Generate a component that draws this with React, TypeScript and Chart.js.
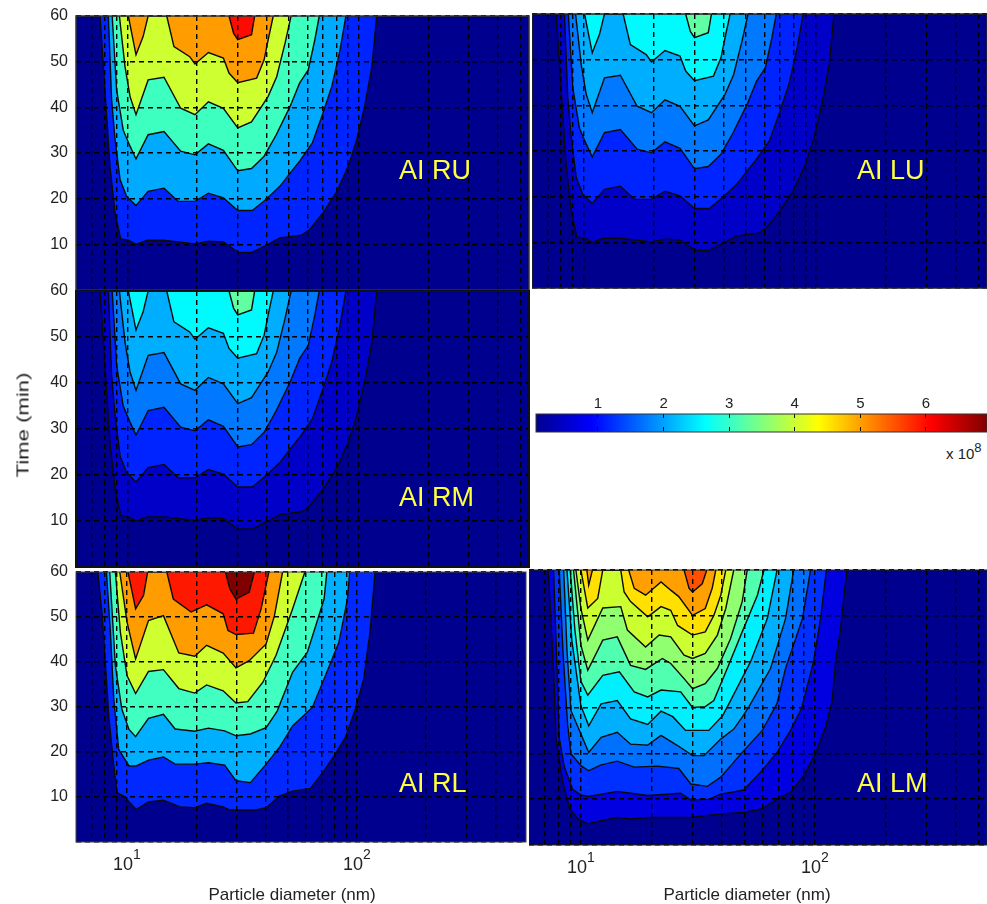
import React, { useEffect, useRef } from "react";
import { Chart, registerables } from "chart.js";

Chart.register(...registerables);

const FONT = '"Liberation Sans", Arial, sans-serif';

// ---- Tick labels ----
const xTickValues = [7, 8, 9, 10, 20, 30, 40, 50, 60, 70, 80, 90, 100, 200, 300, 400, 500];
const xTickLabels: Record<number, string> = { 10: "10", 100: "10" };
const xTickExponents: Record<number, string> = { 10: "1", 100: "2" };
const yTickValues = [0, 10, 20, 30, 40, 50, 60];
const colorbarTicks = [1, 2, 3, 4, 5, 6];

// ---- Contours shared by the RU, RM and LU panels (nm, min) ----
const upperNm1 = [7.62, 7.88, 8.14, 8.41, 8.85, 9.36, 10.1, 10.9, 12.2, 14.3, 19.6, 22.4, 26, 30, 34.4, 40.6, 45.6, 56.6, 61.5, 70, 80.5, 90, 98, 106, 114, 119.5];
const upperMin1 = [60, 48.9, 38, 27.1, 16.9, 11.2, 10.9, 10, 10.9, 10.9, 10.1, 10.7, 10.5, 8.3, 8.2, 10, 11.4, 12, 13.3, 16.9, 21.6, 27.1, 32.9, 40.2, 48.9, 60];
const upperNm2 = [8.28, 8.55, 8.85, 9.3, 9.93, 10.9, 12.3, 14.4, 16.6, 19.6, 22.4, 26, 30, 34.7, 40, 45.6, 50.5, 55.5, 63, 70, 76.5, 83, 88];
const upperMin2 = [60, 41.7, 33, 24.2, 20.5, 18.5, 21.6, 22.3, 19.4, 19.4, 21.2, 20.2, 17.4, 17.4, 20, 22.7, 25.6, 28.2, 32.2, 38.7, 44.6, 52.6, 60];
const upperNm3 = [8.6, 8.99, 9.6, 10.27, 10.9, 12.3, 14.4, 17, 19.6, 22.4, 26, 30, 34.4, 39, 44, 50.5, 55.5, 60.5, 64.6, 67.5];
const upperMin3 = [60, 43.8, 35, 31.5, 28.7, 34, 34.7, 30.4, 29.6, 32, 30.6, 26.1, 26.6, 29.3, 34, 40.2, 45.3, 48.2, 54.8, 60];
const upperNm4 = [9.24, 9.77, 10.27, 10.9, 12.3, 14.4, 17, 19.6, 22.4, 26, 30, 34.4, 40.6, 44.2, 48, 51];
const upperMin4 = [60, 48.9, 42.4, 38.4, 46, 46.6, 39.8, 38.4, 41.2, 39.8, 35.5, 36.8, 42.4, 46.7, 54, 60];
const upperNm5 = [10.1, 10.9, 11.7, 12.3, 14.8, 15.9, 18.6, 19.6, 22.4, 26, 27.5, 30, 36.2, 39, 40.6, 42.7];
const upperMin5 = [60, 51.5, 55.5, 60, 60, 53.3, 51.1, 49.5, 52, 50.8, 47.5, 45.4, 46.4, 50.4, 54.8, 60];
const upperNm6 = [27.5, 28.8, 30, 34.4, 35.5];
const upperMin6 = [60, 56.2, 54.8, 55.9, 60];

// ---- Contours of the RL panel (nm, min) ----
const rlNm1 = [7.47, 7.8, 8.06, 8.33, 8.76, 9.05, 9.67, 10.97, 12.4, 14.4, 17, 19.7, 22.2, 26.2, 28, 36.5, 40.3, 46, 52.5, 62.8, 71, 79.5, 89, 98.5, 107, 114, 120];
const rlMin1 = [60, 50.3, 39.2, 28, 16.9, 11, 10.2, 7.2, 8.9, 9.3, 7.8, 7.6, 8.6, 7.8, 7.1, 7.1, 7.6, 10.2, 11.3, 11.9, 15.4, 19.1, 23.2, 29.5, 36.2, 46.6, 60];
const rlNm2 = [8.14, 8.47, 8.76, 9.2, 10.2, 10.97, 12.4, 14.4, 16.2, 19.7, 22.6, 26.6, 29.8, 34.4, 40.3, 46, 52.5, 64, 73, 83.5, 91, 93];
const rlMin2 = [60, 46.6, 31.8, 20.6, 16.9, 16.9, 18.2, 18.9, 17.3, 17.3, 17.6, 17.1, 13.6, 13.2, 17.3, 21, 25.8, 29.9, 37, 44.4, 54, 60];
const rlNm3 = [8.41, 8.9, 9.5, 10.2, 10.9, 12.4, 14.4, 16.2, 19.7, 22.6, 26.6, 29.8, 34.4, 40.3, 45, 52.5, 60.9, 67, 72, 74];
const rlMin3 = [60, 39.2, 29.5, 25, 23.4, 27.5, 28.4, 25.1, 24.6, 25.3, 24.7, 23.6, 24, 25.4, 29.1, 37.7, 42.2, 48.9, 54, 60];
const rlNm4 = [8.9, 9.36, 10, 10.9, 12.4, 14.4, 16.8, 19.7, 22.2, 26.2, 29.8, 33.5, 39, 44.5, 52.5, 59.4];
const rlMin4 = [60, 46.6, 37, 33, 37.9, 38.3, 34.1, 33.1, 34.9, 33.6, 30.9, 31.2, 35.5, 41.5, 51.8, 60];
const rlNm5 = [9.3, 10, 10.9, 12.4, 14.4, 16.8, 19.7, 22.2, 26.2, 29.8, 34, 40.3, 43.8, 47.5];
const rlMin5 = [60, 48.9, 40.7, 49.2, 50.3, 42, 41.3, 43.7, 42, 38.7, 40.3, 44, 50.3, 60];
const rlNm6 = [10.1, 10.9, 11.8, 12.3, 14.9, 15.9, 19, 22.2, 26.2, 27.5, 29.8, 35.5, 38.3, 41.4];
const rlMin6 = [60, 51.8, 54.8, 60, 60, 54, 51.1, 52.7, 50.7, 47, 46.1, 46.4, 51.8, 60];
const rlNm7 = [26.8, 28, 29.8, 34, 35.8];
const rlMin7 = [60, 56.3, 54, 55.5, 60];

// ---- Contours of the LM panel (nm, min) ----
const lmNm1 = [7.25, 7.45, 7.67, 7.82, 8.35, 8.91, 9.68, 10.7, 12.2, 14.3, 16.3, 19.9, 29.5, 39.6, 49.6, 59.6, 68.9, 78.7, 89.5, 100.6, 111, 118.6, 122.6, 128.7, 137];
const lmMin1 = [60, 49, 35.9, 23.4, 14, 8.2, 5.7, 4.6, 5.3, 6, 5.7, 6, 6, 6.8, 7.1, 7.9, 10, 11.5, 15.1, 19.9, 25.7, 31.5, 40, 47.2, 60];
const lmNm2 = [7.64, 7.86, 8.08, 8.5, 9.2, 10, 10.8, 14.3, 19.3, 26.7, 29.5, 35.2, 39.6, 49.6, 58.6, 68.9, 78.7, 87.7, 98.7, 105.7, 112];
const lmMin2 = [60, 42.4, 23.4, 17, 12.2, 10.9, 10.6, 11.7, 10.8, 11.3, 9.8, 10, 11.1, 12, 15.9, 20.2, 25, 29.8, 40, 49.4, 60];
const lmNm3 = [8.08, 8.38, 8.77, 9.07, 10, 10.8, 12.2, 14.3, 16.9, 21.2, 26.2, 29.5, 34.7, 39.6, 48.9, 59.6, 68.9, 74.9, 88.5, 95.8];
const lmMin3 = [60, 42.4, 26.4, 19.9, 17.3, 16.2, 17.5, 18.3, 17, 17.2, 16.7, 13.3, 12.8, 14.8, 20.2, 25, 30.9, 38.5, 49.4, 60];
const lmNm4 = [8.44, 8.72, 9.07, 10, 10.8, 12.2, 14.3, 16.3, 19.3, 22, 25.9, 30, 33.6, 39.6, 45, 48.9, 52.3, 64.6, 74.9, 81.2];
const lmMin4 = [60, 42.4, 29.3, 24.2, 20.2, 23.5, 24.6, 22, 21.8, 23.9, 21.7, 19.5, 19.5, 23.1, 25.3, 27.9, 30.2, 38.5, 49.4, 60];
const lmNm5 = [8.72, 9.15, 10, 10.8, 12.2, 14.3, 16.3, 19.3, 22, 24.7, 28, 35.2, 40.3, 43.6, 53.1, 62.6, 68.9];
const lmMin5 = [60, 44.6, 30.4, 26, 30.8, 31.5, 27.5, 26.3, 29.2, 28, 25, 25, 28.2, 31.5, 40, 49.4, 60];
const lmNm6 = [9, 9.43, 10, 10.7, 12.4, 14.6, 16.9, 19.3, 22, 26.7, 30, 34, 37, 42.2, 48.9, 56.8, 60.6];
const lmMin6 = [60, 46.8, 35.7, 32.7, 37, 37.8, 33.4, 32.3, 33.8, 33.4, 30, 30.2, 31.5, 38.5, 46.5, 54.5, 60];
const lmNm7 = [9.3, 10, 10.7, 12.4, 14.3, 16.3, 18.9, 22.3, 24.2, 27.6, 30, 34, 38.3, 43.6, 48.9, 51.4];
const lmMin7 = [60, 43.6, 38.1, 44.7, 45.4, 39.2, 38.3, 40.7, 39.6, 36.3, 34.1, 35.2, 38.5, 45, 53.1, 60];
const lmNm8 = [9.52, 10, 10.7, 12.4, 14.8, 15.8, 18.9, 21.6, 24.2, 27.6, 30, 34, 38.3, 41.6, 45];
const lmMin8 = [60, 51.6, 44.7, 51.7, 52, 46.9, 43.2, 45.8, 45.4, 41.4, 40.7, 41.8, 45.8, 51.6, 60];
const lmNm9 = [10, 10.7, 11.8, 12.4, 14.8, 15.3, 16.3, 19.3, 22, 24.2, 25.9, 30, 34, 37, 39.6, 41.6];
const lmMin9 = [60, 51.7, 53.8, 60, 60, 55.2, 53.1, 49.8, 52, 51.2, 47.9, 45.8, 46.5, 50.1, 54.5, 60];
const lmNm10 = [10.6, 10.8, 11.2, 16, 16.9, 18.9, 22, 24.2, 26.2, 30, 34, 36.4, 37.7];
const lmMin10 = [60, 56.7, 60, 60, 56, 54.5, 57.4, 55.6, 54.2, 50.1, 51.6, 56, 60];
const lmNm11 = [27.6, 29, 30, 33, 34.5];
const lmMin11 = [60, 56, 55.2, 57, 60];

// ---- Colours of the filled bands, lowest band first ----
const upperColors = ["#0000c8", "#0024ff", "#0078ff", "#00aeff", "#00fbff", "#60ffa4"];
const ruColors = ["#0024ff", "#00aaff", "#3cffc0", "#ceff30", "#ff9c00", "#ff0a00"];
const rlColors = ["#0028ff", "#00b0ff", "#40ffc0", "#d0ff30", "#ff9c00", "#ff1800", "#800000"];
const lmColors = ["#0000e0", "#0030ff", "#0070ff", "#00b0ff", "#00f0ff", "#50ffb0", "#90ff70", "#ccff30", "#ffe000", "#ffa000", "#ff5000"];
const jetStops = ["#00008f", "#0000ff", "#00ffff", "#ffff00", "#ff0000", "#800000"];
const jetPositions = [0, 0.125, 0.375, 0.625, 0.875, 1];
const BASE_COLOR = "#00008f";

const upperLines = [[upperNm1, upperMin1], [upperNm2, upperMin2], [upperNm3, upperMin3], [upperNm4, upperMin4], [upperNm5, upperMin5], [upperNm6, upperMin6]];
const rlLines = [[rlNm1, rlMin1], [rlNm2, rlMin2], [rlNm3, rlMin3], [rlNm4, rlMin4], [rlNm5, rlMin5], [rlNm6, rlMin6], [rlNm7, rlMin7]];
const lmLines = [[lmNm1, lmMin1], [lmNm2, lmMin2], [lmNm3, lmMin3], [lmNm4, lmMin4], [lmNm5, lmMin5], [lmNm6, lmMin6], [lmNm7, lmMin7], [lmNm8, lmMin8], [lmNm9, lmMin9], [lmNm10, lmMin10], [lmNm11, lmMin11]];

type Panel = {
  l: number; t: number; r: number; b: number; lines: number[][][]; colors: string[];
  yLabels: boolean; xLabels: boolean; frame: string; frameWidth: number;
};

const panels: Panel[] = [
  { l: 532, t: 14, r: 987, b: 288, lines: upperLines, colors: upperColors, yLabels: false, xLabels: false, frame: "#222", frameWidth: 1.5 },
  { l: 76, t: 16, r: 529, b: 290, lines: upperLines, colors: ruColors, yLabels: true, xLabels: false, frame: "#333", frameWidth: 1.5 },
  { l: 76, t: 291, r: 529, b: 567, lines: upperLines, colors: upperColors, yLabels: true, xLabels: false, frame: "#111", frameWidth: 2 },
  { l: 76, t: 572, r: 526, b: 841, lines: rlLines, colors: rlColors, yLabels: true, xLabels: true, frame: "#444", frameWidth: 1 },
  { l: 529, t: 570, r: 987, b: 844, lines: lmLines, colors: lmColors, yLabels: false, xLabels: true, frame: "#222", frameWidth: 1 },
];

const panelLabels = [
  { text: "AI RU", x: 399, y: 171 },
  { text: "AI LU", x: 857, y: 171 },
  { text: "AI RM", x: 399, y: 498 },
  { text: "AI RL", x: 399, y: 784 },
  { text: "AI LM", x: 857, y: 784 },
];

const SOFTEN = "blur(0.45px)";

function framePlugin(color: string, width: number) {
  return {
    id: "frame",
    beforeDatasetsDraw(chart: any) {
      const a = chart.chartArea;
      chart.ctx.save();
      chart.ctx.fillStyle = BASE_COLOR;
      chart.ctx.fillRect(a.left, a.top, a.right - a.left, a.bottom - a.top);
      chart.ctx.restore();
    },
    afterDraw(chart: any) {
      const a = chart.chartArea;
      chart.ctx.save();
      chart.ctx.strokeStyle = color;
      chart.ctx.lineWidth = width;
      chart.ctx.strokeRect(a.left, a.top, a.right - a.left, a.bottom - a.top);
      chart.ctx.restore();
    },
  };
}

const exponentPlugin = {
  id: "exponents",
  afterDraw(chart: any) {
    if (chart.height - chart.chartArea.bottom < 10) return;
    const s = chart.scales.x;
    const ctx = chart.ctx;
    ctx.save();
    ctx.font = `14px ${FONT}`;
    ctx.fillStyle = "#222";
    ctx.textAlign = "left";
    ctx.textBaseline = "middle";
    Object.keys(xTickExponents).forEach((k) => {
      ctx.fillText(xTickExponents[Number(k)], s.getPixelForValue(Number(k)) + 6, chart.chartArea.bottom + 13);
    });
    ctx.restore();
  },
};

function ContourPanel({ p }: { p: Panel }) {
  const ref = useRef<HTMLCanvasElement>(null);
  const ml = p.yLabels ? 76 : 0;
  const mt = 12;
  const mb = p.xLabels ? 46 : 0;
  const w = p.r - p.l + ml + 1;
  const h = p.b - p.t + mt + mb + 1;
  useEffect(() => {
    const chart = new Chart(ref.current as HTMLCanvasElement, {
      type: "line",
      data: {
        datasets: p.lines.map((line, i) => ({
          data: line[0].map((nm, j) => ({ x: nm, y: line[1][j] })),
          fill: "end",
          backgroundColor: p.colors[i],
          borderColor: "#0a0a0a",
          borderWidth: 1.4,
          pointRadius: 0,
          tension: 0,
          order: p.lines.length - i,
        })),
      },
      options: {
        animation: false,
        responsive: false,
        layout: { padding: { top: mt, right: 1, bottom: p.xLabels ? 0 : 1, left: 0 } },
        plugins: { legend: { display: false }, tooltip: { enabled: false } },
        scales: {
          x: {
            type: "logarithmic",
            min: 6,
            max: 544,
            afterBuildTicks: (s: any) => {
              s.ticks = xTickValues.map((value) => ({ value, major: false }));
            },
            afterFit: (s: any) => {
              s.height = mb;
              s.paddingLeft = 0;
              s.paddingRight = 0;
            },
            border: { display: false, dash: [5, 4] },
            grid: { color: "#000", lineWidth: 1.4, z: 1, drawTicks: false },
            ticks: {
              display: p.xLabels,
              autoSkip: false,
              maxRotation: 0,
              padding: 12,
              labelOffset: -4,
              color: "#222",
              font: { family: FONT, size: 18 },
              callback: (v: any) => xTickLabels[Number(v)] ?? "",
            },
          },
          y: {
            type: "linear",
            min: 0,
            max: 60,
            afterBuildTicks: (s: any) => {
              s.ticks = yTickValues.map((value) => ({ value }));
            },
            afterFit: (s: any) => {
              s.width = ml;
              s.paddingTop = 0;
              s.paddingBottom = 0;
            },
            border: { display: false, dash: [5, 4] },
            grid: { color: "#000", lineWidth: 1.4, z: 1, drawTicks: false },
            ticks: {
              display: p.yLabels,
              padding: 8,
              color: "#222",
              font: { family: FONT, size: 16 },
              callback: (v: any) => (Number(v) === 0 ? "" : String(v)),
            },
          },
        },
      } as any,
      plugins: [framePlugin(p.frame, p.frameWidth), exponentPlugin],
    });
    return () => chart.destroy();
  }, []);
  return (
    <canvas
      ref={ref}
      width={w}
      height={h}
      style={{ position: "absolute", left: p.l - ml, top: p.t - mt, width: w, height: h, display: "block", filter: SOFTEN }}
    />
  );
}

function Colorbar() {
  const ref = useRef<HTMLCanvasElement>(null);
  useEffect(() => {
    const chart = new Chart(ref.current as HTMLCanvasElement, {
      type: "bar",
      data: {
        labels: ["colorbar"],
        datasets: [
          {
            data: [6.93],
            categoryPercentage: 1,
            barPercentage: 1,
            backgroundColor: (ctx: any) => {
              const a = ctx.chart.chartArea;
              if (!a) return BASE_COLOR;
              const g = ctx.chart.ctx.createLinearGradient(a.left, 0, a.right, 0);
              jetStops.forEach((c, i) => g.addColorStop(jetPositions[i], c));
              return g;
            },
          },
        ],
      },
      options: {
        animation: false,
        responsive: false,
        indexAxis: "y",
        layout: { padding: { top: 0, right: 1, bottom: 1, left: 1 } },
        plugins: { legend: { display: false }, tooltip: { enabled: false } },
        scales: {
          x: {
            position: "top",
            min: 0.055,
            max: 6.93,
            afterBuildTicks: (s: any) => {
              s.ticks = colorbarTicks.map((value) => ({ value }));
            },
            afterFit: (s: any) => {
              s.height = 24;
              s.paddingLeft = 0;
              s.paddingRight = 0;
            },
            border: { display: false, dash: [4, 9] },
            grid: { color: "#111", lineWidth: 1, z: 1, drawTicks: false },
            ticks: { padding: 1, color: "#222", font: { family: FONT, size: 15 } },
          },
          y: { display: false },
        },
      } as any,
      plugins: [framePlugin("#333", 1)],
    });
    return () => chart.destroy();
  }, []);
  return (
    <canvas
      ref={ref}
      width={453}
      height={43}
      style={{ position: "absolute", left: 535, top: 390, width: 453, height: 43, display: "block", filter: SOFTEN }}
    />
  );
}

const textStyle: React.CSSProperties = { position: "absolute", fontFamily: FONT, whiteSpace: "nowrap", color: "#222", lineHeight: 1 };

export default function App() {
  return (
    <div style={{ position: "absolute", left: 0, top: 0, width: 987, height: 904, overflow: "hidden", background: "#fff" }}>
      {panels.map((p, i) => (
        <ContourPanel key={i} p={p} />
      ))}
      <Colorbar />
      {panelLabels.map((l) => (
        <span key={l.text} style={{ ...textStyle, left: l.x, top: l.y - 14, fontSize: 27, color: "#ffff3c" }}>
          {l.text}
        </span>
      ))}
      <span style={{ ...textStyle, left: 23, top: 425, fontSize: 17, transform: "translate(-50%,-50%) rotate(-90deg) scaleX(1.3)" }}>Time (min)</span>
      <span style={{ ...textStyle, left: 292, top: 894, fontSize: 17, transform: "translate(-50%,-50%)" }}>Particle diameter (nm)</span>
      <span style={{ ...textStyle, left: 747, top: 894, fontSize: 17, transform: "translate(-50%,-50%)" }}>Particle diameter (nm)</span>
      <span style={{ ...textStyle, left: 946, top: 446, fontSize: 15 }}>
        x 10<sup style={{ fontSize: 13, position: "relative", top: -1, verticalAlign: "super", lineHeight: 0, color: "#222" }}>8</sup>
      </span>
    </div>
  );
}
